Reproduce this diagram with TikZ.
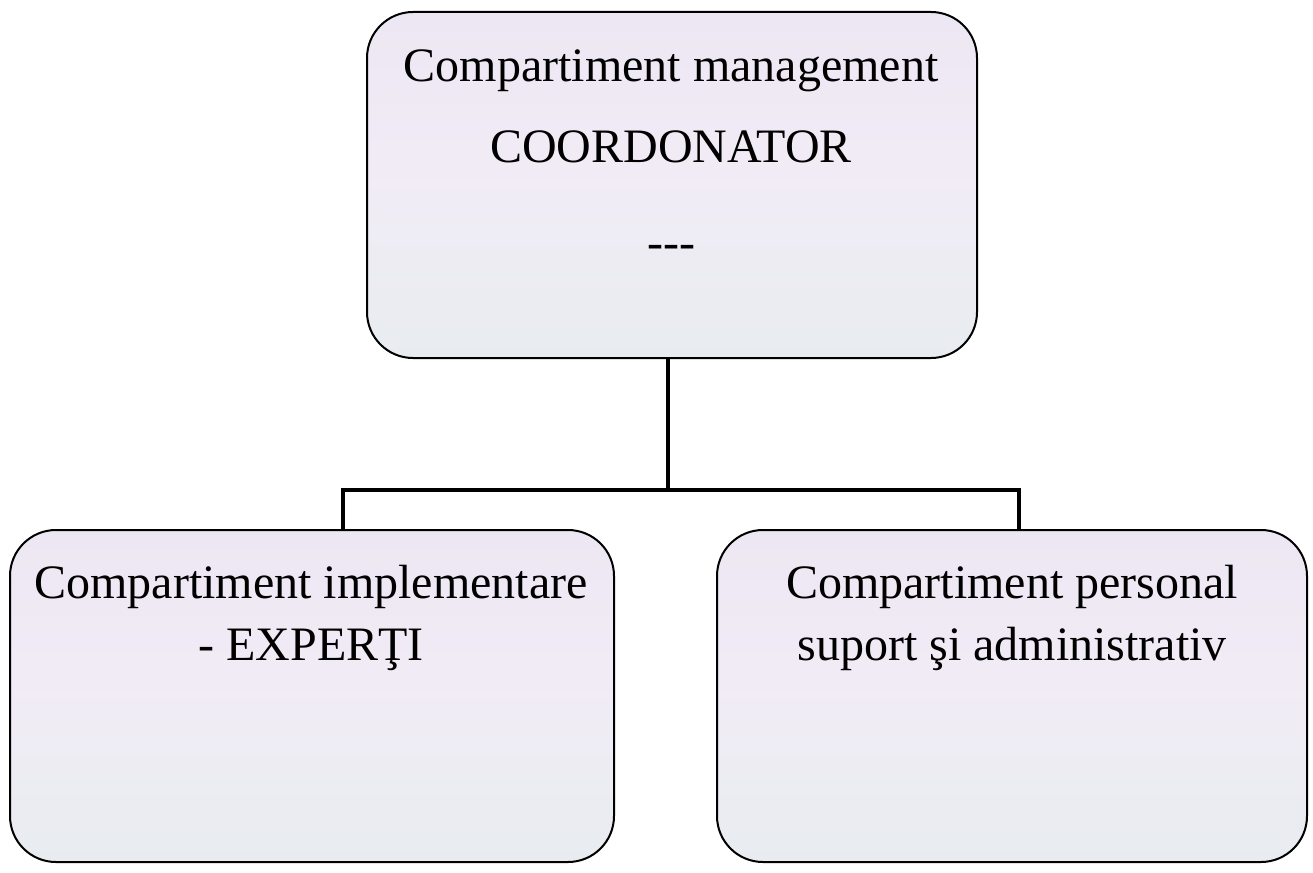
\documentclass[tikz,border=0pt]{standalone}
\usepackage{fontspec}
\setmainfont{Liberation Serif}
\definecolor{boxfill}{RGB}{237,231,243}
\definecolor{boxfillb}{RGB}{232,236,240}
\tikzset{
  orgbox/.style={draw=black, line width=2pt, rounded corners=46pt, left color=boxfill, right color=boxfillb, middle color=boxfill!80!white, shading angle=0, inner sep=0pt},
  orgtext/.style={anchor=base, inner sep=0pt, font=\fontsize{48}{58}\selectfont},
  link/.style={line width=4pt, draw=black}
}
\begin{document}
\begin{tikzpicture}[x=1pt,y=-1pt]
\useasboundingbox[fill=white] (0,0) rectangle (1313,872);
\node[orgbox, minimum width=610pt, minimum height=346pt] (top) at (672,185) {};
\node[orgbox, minimum width=604pt, minimum height=332pt] (left) at (312,696) {};
\node[orgbox, minimum width=590pt, minimum height=332pt] (right) at (1012,696) {};
\node[orgtext] (t1) at (671,82) {Compartiment management};
\node[orgtext] (t2) at (671,162) {COORDONATOR};
\node[orgtext] (t3) at (671,258) {-{}-{}-};
\node[orgtext] (l1) at (311,598) {Compartiment implementare};
\node[orgtext] (l2) at (311,660) {- EXPERŢI};
\node[orgtext] (r1) at (1012,598) {Compartiment personal};
\node[orgtext] (r2) at (1012,660) {suport şi administrativ};
\coordinate (j) at (668,490);
\coordinate (jl) at (343,490);
\coordinate (jr) at (1019,490);
\draw[link] (top.south -| j) -- (j);
\draw[link, line join=miter] (left.north -| jl) -- (jl) -- (jr) -- (right.north -| jr);
\end{tikzpicture}
\end{document}
